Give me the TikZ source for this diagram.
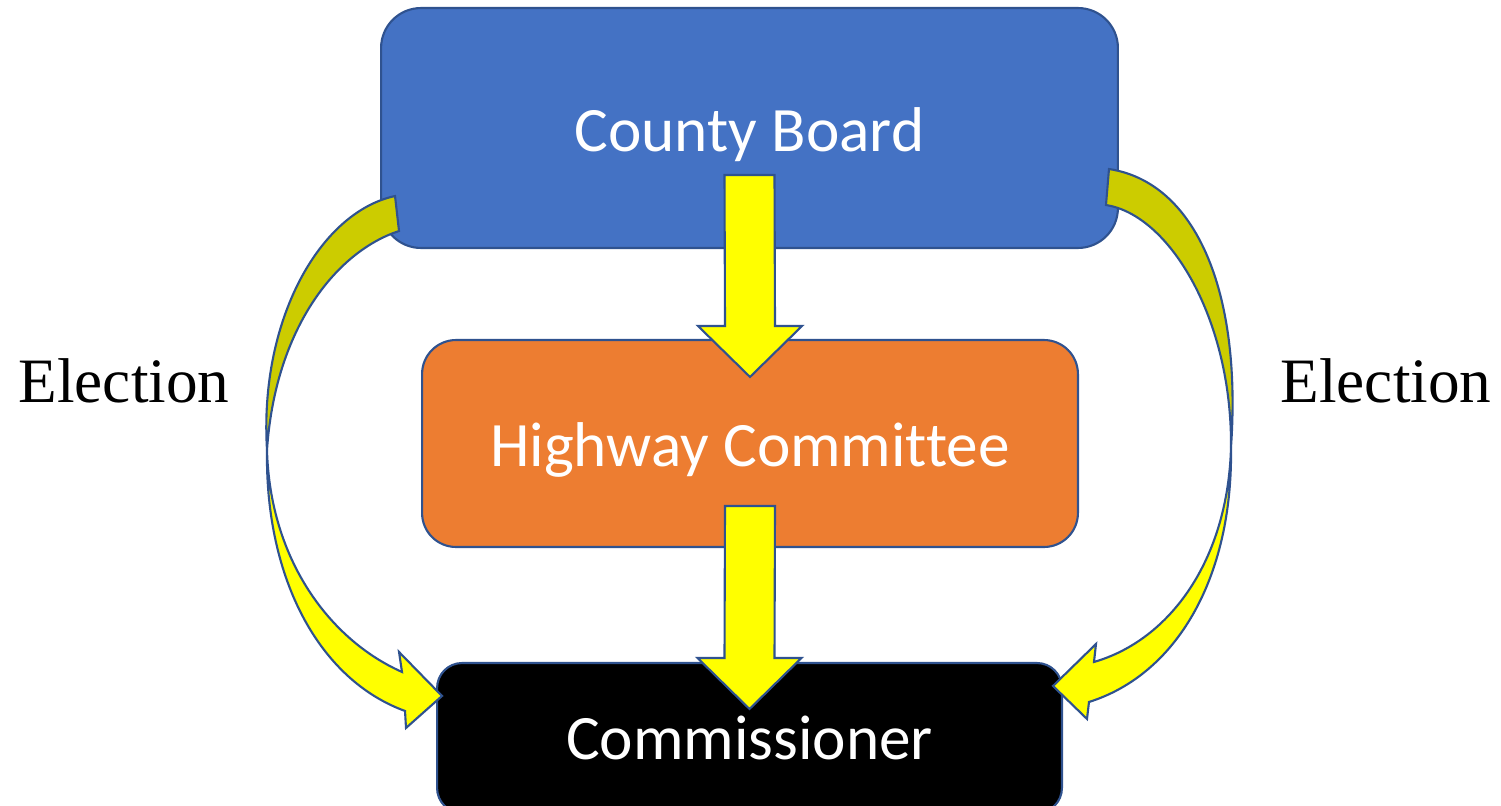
\documentclass[tikz,border=0pt]{standalone}
\usepackage{fontspec}
\setmainfont{Liberation Serif}
\newfontfamily\boxfont[Ligatures=NoCommon]{Carlito}
\usetikzlibrary{calc}

\definecolor{boardblue}{HTML}{4472C4}
\definecolor{committeeorange}{HTML}{ED7D31}
\definecolor{edgeblue}{HTML}{2F528F}
\definecolor{arrowyellow}{HTML}{FFFF00}
\definecolor{backyellow}{HTML}{CCCC00}

\tikzset{
  orgbox/.style={draw=edgeblue, line width=1.2pt, rectangle, inner sep=0pt, text=white,
    font=\boxfont\fontsize{36}{43}\selectfont},
  blockarrow/.style={draw=edgeblue, line width=1.2pt, fill=arrowyellow, line join=miter},
  ribbonback/.style={draw=edgeblue, line width=1.2pt, fill=backyellow},
  ribbonfront/.style={draw=edgeblue, line width=1.2pt, fill=arrowyellow},
  sidelabel/.style={font=\fontsize{36}{43}\selectfont}
}

% straight block arrow from #1 (top of shaft) to #2 (tip)
\newcommand{\downblock}[2]{%
  \draw[blockarrow] ($(#1)+(-25,0)$) -- ($(#2)+(-25,-51)$) -- ($(#2)+(-52,-51)$) -- (#2)
    -- ($(#2)+(52,-51)$) -- ($(#2)+(25,-51)$) -- ($(#1)+(25,0)$) -- cycle;}

\begin{document}
\begin{tikzpicture}[x=0.02cm, y=-0.02cm]
    \useasboundingbox (0,0) rectangle (1501,805);
    \clip (0,0) rectangle (1501,805);

    \node[orgbox, fill=boardblue, minimum width=14.74cm, minimum height=4.8cm, rounded corners=0.8cm,
        text height=27pt, text depth=0pt] (board) at (749.5,128) {County Board};
    \node[orgbox, fill=committeeorange, minimum width=13.12cm, minimum height=4.14cm, rounded corners=0.68cm,
        text height=26.5pt, text depth=0pt] (committee) at (750,443.5) {Highway Committee};
    \node[orgbox, fill=black, minimum width=12.5cm, minimum height=3cm, rounded corners=0.5cm] (commissioner) at (749.5,738) {Commissioner};

    \node[sidelabel] (electionL) at (124,381) {Election};
    \node[sidelabel] (electionR) at (1386,381) {Election};

    % straight arrows
    \coordinate (b1) at ($(board.south)+(0,-74)$);
    \coordinate (t1) at ($(committee.north)+(0,38)$);
    \downblock{b1}{t1}
    \coordinate (b2) at ($(committee.south)+(0,-42)$);
    \coordinate (t2) at ($(commissioner.north)+(0,47)$);
    \downblock{b2}{t2}

    % left election arrow
    \coordinate (lA1) at ($(board.south west)+(15,-53)$);
    \coordinate (lA2) at ($(board.south west)+(19,-18)$);
    \coordinate (lX) at (267,450);
    \coordinate (lT) at ($(commissioner.north west)+(6,34)$);
    \coordinate (lU) at ($(lT)+(-43,-44)$);
    \coordinate (lN1) at ($(lT)+(-40,-24)$);
    \coordinate (lL) at ($(lT)+(-36,32)$);
    \coordinate (lN2) at ($(lT)+(-37,15)$);
    \draw[ribbonback] (lA1) .. controls (320,212) and (259,320) .. (lX)
        .. controls (275,330) and (335,252) .. (lA2) -- cycle;
    \draw[ribbonfront] (lX) .. controls (270,560) and (330,640) .. (lN1) -- (lU) -- (lT) -- (lL) -- (lN2)
        .. controls (320,680) and (265,580) .. (lX) -- cycle;

    % right election arrow
    \coordinate (rA1) at ($(board.south east)+(-10,-80)$);
    \coordinate (rA2) at ($(board.south east)+(-13,-44)$);
    \coordinate (rX) at (1231,447);
    \coordinate (rT) at ($(commissioner.north east)+(-10,24)$);
    \coordinate (rU) at ($(rT)+(43,-42)$);
    \coordinate (rN1) at ($(rT)+(41,-24)$);
    \coordinate (rL) at ($(rT)+(34,33)$);
    \coordinate (rN2) at ($(rT)+(36,16)$);
    \draw[ribbonback] (rA1) .. controls (1195,182) and (1242,290) .. (rX)
        .. controls (1232,320) and (1170,215) .. (rA2) -- cycle;
    \draw[ribbonfront] (rX) .. controls (1228,560) and (1170,640) .. (rN1) -- (rU) -- (rT) -- (rL) -- (rN2)
        .. controls (1175,675) and (1233,580) .. (rX) -- cycle;
\end{tikzpicture}
\end{document}
